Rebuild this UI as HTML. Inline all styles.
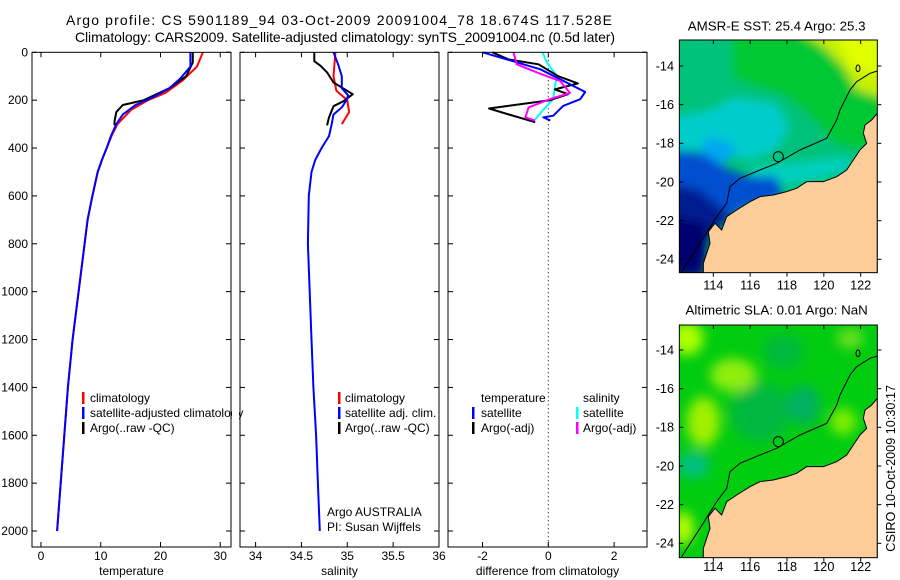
<!DOCTYPE html>
<html><head><meta charset="utf-8"><style>
body{margin:0;background:#fff;}
svg{display:block;font-family:"Liberation Sans",sans-serif;}
</style></head><body>
<svg id="root" width="900" height="580" viewBox="0 0 900 580">
<rect width="900" height="580" fill="#fff"/>
<text x="339" y="25" font-size="14" text-anchor="middle" textLength="546" lengthAdjust="spacing">Argo profile: CS 5901189_94 03-Oct-2009 20091004_78 18.674S 117.528E</text>
<text x="345" y="42" font-size="14" text-anchor="middle" textLength="540" lengthAdjust="spacing">Climatology: CARS2009. Satellite-adjusted climatology: synTS_20091004.nc (0.5d later)</text>
<g id="panels"></g>
<g id="legends" font-size="12">
  <g>
    <rect x="82" y="392" width="2.5" height="12" fill="#f00"/><text x="90" y="402">climatology</text>
    <rect x="82" y="407" width="2.5" height="12" fill="#00f"/><text x="90" y="417">satellite-adjusted climatology</text>
    <rect x="82" y="422" width="2.5" height="12" fill="#000"/><text x="90" y="432">Argo(..raw -QC)</text>
  </g>
  <rect x="232" y="380" width="7" height="60" fill="#fff"/>
  <g>
    <rect x="338" y="392" width="2.5" height="12" fill="#f00"/><text x="345" y="402">climatology</text>
    <rect x="338" y="407" width="2.5" height="12" fill="#00f"/><text x="345" y="417">satellite adj. clim.</text>
    <rect x="338" y="422" width="2.5" height="12" fill="#000"/><text x="345" y="432">Argo(..raw -QC)</text>
  </g>
  <text x="327" y="516">Argo AUSTRALIA</text>
  <text x="327" y="531">PI: Susan Wijffels</text>
  <g>
    <text x="481" y="402">temperature</text><text x="583" y="402">salinity</text>
    <rect x="472" y="407" width="2.5" height="12" fill="#00f"/><text x="481" y="417">satellite</text>
    <rect x="576" y="407" width="2.5" height="12" fill="#0ff"/><text x="583" y="417">satellite</text>
    <rect x="472" y="422" width="2.5" height="12" fill="#000"/><text x="481" y="432">Argo(-adj)</text>
    <rect x="576" y="422" width="2.5" height="12" fill="#f0f"/><text x="583" y="432">Argo(-adj)</text>
  </g>
</g>

<!-- SST map -->
<svg x="650" y="10" width="250" height="290" viewBox="0 0 750 870">
  <text x="380" y="62" font-size="40" text-anchor="middle">AMSR-E SST: 25.4  Argo: 25.3</text>
  <defs>
    <clipPath id="c1"><rect x="88" y="90" width="594" height="698"/></clipPath>
    <filter id="blur" x="-20%" y="-20%" width="140%" height="140%"><feGaussianBlur stdDeviation="14"/></filter>
  </defs>
  <g clip-path="url(#c1)">
    <rect x="88" y="90" width="594" height="698" fill="#00c27a"/>
    <g filter="url(#blur)">
    <polygon points="250,60 720,60 720,330 640,420 560,400 470,300 400,250 330,230 250,200" fill="#00c830"/>
    <polygon points="440,60 720,60 720,270 620,240 580,170 520,110" fill="#c8f000"/>
    <polygon points="560,60 720,60 720,200 600,170" fill="#e0ff00"/>
    <polygon points="250,260 380,280 420,350 380,420 300,450 180,420 60,420 60,320 180,300" fill="#00cccc"/>
    <polygon points="300,470 600,440 600,480 470,515 320,530" fill="#00d0c0"/>
    <polygon points="170,380 250,400 250,440 200,470 150,430" fill="#00a8f0"/>
    <polygon points="60,420 160,430 240,480 300,500 380,500 400,560 300,590 230,620 200,640 160,700 60,720" fill="#0050d0"/>
    <polygon points="60,520 150,540 220,600 250,620 180,680 160,800 60,800" fill="#001a90"/>
    <polygon points="60,620 170,640 160,800 60,800" fill="#000070"/>
    </g>
    <use href="#land"/>
  </g>
  <defs>
    <g id="land">
      <polygon points="160,790 160,760 180,700 175,665 195,640 215,660 230,620 260,600 300,575 330,560 370,555 410,545 440,535 470,515 520,515 560,500 590,480 610,450 630,420 650,400 640,370 645,345 665,330 682,310 682,790" fill="#fccc99" stroke="#000" stroke-width="3"/>
      <polyline points="95,785 150,700 200,620 230,580 240,530 270,505 330,480 380,460 450,420 530,385 560,330 570,300 600,240 620,215 660,190 682,183" fill="none" stroke="#000" stroke-width="3"/>
      <circle cx="385" cy="440" r="15" fill="none" stroke="#000" stroke-width="3"/>
      <ellipse cx="624" cy="175" rx="6" ry="10" fill="none" stroke="#000" stroke-width="3"/>
    </g>
  </defs>
  <rect x="88" y="90" width="594" height="698" fill="none" stroke="#000" stroke-width="3"/>
  <g id="m1ticks" font-size="38"></g>
</svg>

<!-- SLA map -->
<svg x="650" y="295" width="250" height="285" viewBox="0 0 750 855">
  <text x="380" y="58" font-size="40" text-anchor="middle">Altimetric SLA: 0.01  Argo: NaN</text>
  <defs><clipPath id="c2"><rect x="88" y="90" width="594" height="698"/></clipPath>
    <filter id="blur2" x="-20%" y="-20%" width="140%" height="140%"><feGaussianBlur stdDeviation="18"/></filter></defs>
  <g clip-path="url(#c2)">
    <rect x="88" y="90" width="594" height="698" fill="#00cc10"/>
    <g filter="url(#blur2)">
    <ellipse cx="330" cy="350" rx="90" ry="90" fill="#00b840"/>
    <ellipse cx="460" cy="330" rx="50" ry="60" fill="#00b060"/>
    <ellipse cx="400" cy="170" rx="60" ry="50" fill="#00b840"/>
    <ellipse cx="250" cy="240" rx="70" ry="50" fill="#90ee10"/>
    <ellipse cx="160" cy="380" rx="50" ry="75" fill="#a0f000"/>
    <ellipse cx="110" cy="130" rx="50" ry="50" fill="#b0ff00"/>
    <ellipse cx="600" cy="130" rx="40" ry="30" fill="#70e020"/>
    <ellipse cx="580" cy="380" rx="40" ry="40" fill="#80ee00"/>
    <ellipse cx="130" cy="510" rx="50" ry="40" fill="#00c080"/>
    <ellipse cx="100" cy="700" rx="30" ry="50" fill="#c0ff00"/>
    </g>
    <use href="#land"/>
  </g>
  <rect x="88" y="90" width="594" height="698" fill="none" stroke="#000" stroke-width="3"/>
  <g id="m2ticks" font-size="38"></g>
  <text transform="translate(735,520) rotate(-90)" font-size="38" text-anchor="middle">CSIRO 10-Oct-2009 10:30:17</text>
</svg>
</svg>
<script>
// ---- data ----
const depthTicks = [0,200,400,600,800,1000,1200,1400,1600,1800,2000];
const tempTicks = [0,10,20,30];
const salTicks = [34,34.5,35,35.5,36];
const diffTicks = [-2,0,2];
const tempClimDepth = [0,60,120,170,200,240,300,350,400,450,500,600,700,800,1000,1200,1400,1600,1800,2000];
const tempClim = [27.1,26.1,23.6,20.8,17.9,15.1,12.8,11.8,11.0,10.2,9.5,8.6,7.8,7.3,6.3,5.3,4.5,3.9,3.3,2.7];
const tempSatDepth = [0,60,110,150,190,220,260,300,350,400,450,500,600,700,800,1000,1200,1400,1600,1800,2000];
const tempSat = [25.0,25.0,23.3,21.5,18.6,15.8,13.7,12.6,11.7,11.0,10.2,9.5,8.6,7.8,7.3,6.3,5.3,4.5,3.9,3.3,2.7];
const tempArgoDepth = [0,42,100,150,200,220,250,290,305];
const tempArgo = [25.4,25.4,24.3,21.5,17.2,13.7,12.6,12.3,12.3];
const salClimDepth = [0,100,160,200,250,300];
const salClim = [34.87,34.85,34.88,35.0,35.02,34.94];
const salSatDepth = [0,50,100,150,180,200,230,260,300,350,400,450,500,600,800,1000,1200,1400,1600,1800,2000];
const salSat = [34.85,34.9,34.94,34.94,35.01,34.99,34.94,34.85,34.83,34.80,34.72,34.65,34.61,34.58,34.57,34.59,34.61,34.63,34.66,34.68,34.70];
const salArgoDepth = [0,37,57,84,126,175,204,225,272,305];
const salArgo = [34.64,34.64,34.71,34.78,34.85,35.06,34.96,34.85,34.80,34.78];
const dTempArgoDepth = [0,30,50,100,130,155,175,200,235,260,292];
const dTempArgo = [-1.7,-1.2,-0.3,0.3,0.9,0.2,0.6,0.05,-1.8,-1.2,-0.4];
const dTempSatDepth = [0,30,71,113,166,196,224,265,272,285];
const dTempSat = [-2.0,-1.25,-0.24,0.36,1.12,0.97,0.45,0.15,-0.15,0.06];
const dSalArgoDepth = [0,50,90,120,170,195,230,272,285];
const dSalArgo = [-1.06,-0.96,-0.24,0.36,0.66,0.06,-0.6,-0.7,-0.4];
const dSalSatDepth = [0,45,100,140,195,240,280];
const dSalSat = [-0.18,-0.03,0.27,0.2,0.15,-0.15,-0.4];
const latLabels = ["-14","-16","-18","-20","-22","-24"];
const lonLabels = ["114","116","118","120","122"];

// ---- axes ----
const NS="http://www.w3.org/2000/svg";
const TOP=52.3, BOT=547, DMAX=(BOT-TOP)/((531-52.3)/2000);
const yD = d => TOP + d*(BOT-TOP)/DMAX;
const panels = [
 {x0:32,x1:231,min:-1.5,max:31.8,ticks:tempTicks,label:"temperature",name:"temperature-panel"},
 {x0:240,x1:439,min:33.83,max:36.0,ticks:salTicks,label:"salinity",name:"salinity-panel"},
 {x0:448,x1:647,min:-3.05,max:3.0,ticks:diffTicks,label:"difference from climatology",name:"difference-panel"}
];
const G=document.getElementById('panels');
function mk(tag,attrs,parent){const e=document.createElementNS(NS,tag);for(const k in attrs)e.setAttribute(k,attrs[k]);(parent||G).appendChild(e);return e;}
panels.forEach(p=>{ p.x = v => p.x0 + (v-p.min)/(p.max-p.min)*(p.x1-p.x0); });
panels.forEach((p,i)=>{
  const g=mk('g',{});
  
  
  p.g=g;
  p.ticks.forEach(t=>{
    const x=p.x(t);
    mk('line',{x1:x,x2:x,y1:TOP,y2:TOP+5,stroke:'#000'},g);
    mk('line',{x1:x,x2:x,y1:BOT,y2:BOT-5,stroke:'#000'},g);
    const tx=mk('text',{x:x,y:560,'font-size':12,'text-anchor':'middle'},g);
    tx.textContent=String(t);
    
    
  });
  depthTicks.forEach(d=>{
    const y=yD(d);
    mk('line',{x1:p.x0,x2:p.x0+5,y1:y,y2:y,stroke:'#000'},g);
    mk('line',{x1:p.x1,x2:p.x1-5,y1:y,y2:y,stroke:'#000'},g);
    if(i===0){const tx=mk('text',{x:28,y:y+4,'font-size':12,'text-anchor':'end'},g);tx.textContent=String(d);
      
      }
  });
  const lb=mk('text',{x:(p.x0+p.x1)/2,y:575,'font-size':12,'text-anchor':'middle'},g);
  lb.textContent=p.label;
  
  
});
mk('line',{x1:panels[2].x(0),x2:panels[2].x(0),y1:TOP,y2:BOT,stroke:'#000','stroke-dasharray':'1,3'},panels[2].g);
function series(p,depths,vals,color,name,w){
  const pts=depths.map((d,k)=>p.x(vals[k]).toFixed(1)+','+yD(d).toFixed(1)).join(' ');
  const pl=mk('polyline',{points:pts,fill:'none',stroke:color,'stroke-width':w||2,'stroke-linejoin':'round'},p.g);
  
  
}
series(panels[0],tempClimDepth,tempClim,'#f00','temp-climatology-line');
series(panels[0],tempArgoDepth,tempArgo,'#000','temp-argo-line');
series(panels[0],tempSatDepth,tempSat,'#00f','temp-satellite-line');
series(panels[1],salClimDepth,salClim,'#f00','sal-climatology-line');
series(panels[1],salArgoDepth,salArgo,'#000','sal-argo-line');
series(panels[1],salSatDepth,salSat,'#00f','sal-satellite-line');
series(panels[2],dSalSatDepth,dSalSat,'#0ff','diff-sal-satellite-line');
series(panels[2],dTempArgoDepth,dTempArgo,'#000','diff-temp-argo-line');
series(panels[2],dTempSatDepth,dTempSat,'#00f','diff-temp-satellite-line');
series(panels[2],dSalArgoDepth,dSalArgo,'#f0f','diff-sal-argo-line');
panels.forEach(p=>{const r=mk('rect',{x:p.x0,y:TOP,width:p.x1-p.x0,height:BOT-TOP,fill:'none',stroke:'#000'},p.g);
  
  });

// map ticks
function mapTicks(id,latY,lonY){
  const g=document.getElementById(id);
  latLabels.forEach((l,k)=>{const y=latY[0]+k*(latY[1]-latY[0])/5;
    mk('line',{x1:88,x2:100,y1:y,y2:y,stroke:'#000','stroke-width':3},g);
    mk('line',{x1:682,x2:694,y1:y,y2:y,stroke:'#000','stroke-width':3},g);
    const t=mk('text',{x:72,y:y+13,'text-anchor':'end'},g);t.textContent=l;
    
    });
  lonLabels.forEach((l,k)=>{const x=190+k*110.5;
    mk('line',{x1:x,x2:x,y1:90,y2:102,stroke:'#000','stroke-width':3},g);
    mk('line',{x1:x,x2:x,y1:788,y2:800,stroke:'#000','stroke-width':3},g);
    const t=mk('text',{x:x,y:lonY,'text-anchor':'middle'},g);t.textContent=l;
    
    });
}
mapTicks('m1ticks',[168,748],838);
mapTicks('m2ticks',[165,745],828);
</script>
</body></html>
